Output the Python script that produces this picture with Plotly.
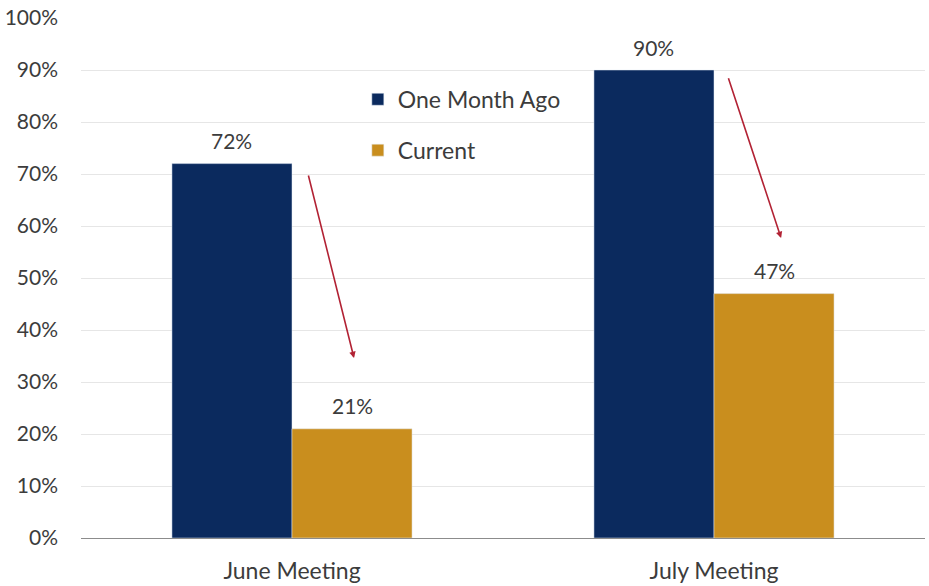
import plotly.graph_objects as go

categories = ["June Meeting", "July Meeting"]
one_month_ago = [0.72, 0.90]
current = [0.21, 0.47]
y_ticks = [0, 0.1, 0.2, 0.3, 0.4, 0.5, 0.6, 0.7, 0.8, 0.9, 1.0]
y_tick_labels = ["0%", "10%", "20%", "30%", "40%", "50%", "60%", "70%", "80%", "90%", "100%"]

NAVY = "#0B2A5E"
GOLD = "#C98E1E"
TXT = "#3C3C3C"
FONT = "Lato"
BARGAP = 0.431
OFFSET = (1 - BARGAP) / 4  # centre offset of each bar within its group

fig = go.Figure()
fig.add_trace(go.Bar(x=categories, y=one_month_ago, name="One Month Ago", marker_color=NAVY,
                     legendgroup="a"))
fig.add_trace(go.Bar(x=categories, y=current, name="Current", marker_color=GOLD,
                     legendgroup="b"))

# value labels above bars
for i, cat in enumerate(categories):
    for val, off in ((one_month_ago[i], -OFFSET), (current[i], OFFSET)):
        fig.add_annotation(x=i + off, y=val, xref="x", yref="y", text=f"{val:.0%}",
                           showarrow=False, yshift=23, font=dict(size=21, color=TXT, family=FONT))

# arrows from "one month ago" toward "current" (category index + offset, y value)
arrows = [
    (0.038, 0.70, 0.147, 0.346),
    (1.033, 0.887, 1.159, 0.577),
]
for x0, y0, x1, y1 in arrows:
    fig.add_annotation(x=x1, y=y1, ax=x0, ay=y0, xref="x", yref="y", axref="x", ayref="y",
                       showarrow=True, arrowhead=2, arrowsize=0.8, arrowwidth=1.6,
                       arrowcolor="#B22234", text="")

fig.update_layout(
    width=929, height=586,
    margin=dict(l=81, r=4, t=18, b=48),
    plot_bgcolor="white", paper_bgcolor="white",
    barmode="group", bargap=BARGAP, bargroupgap=0,
    font=dict(family=FONT, size=20, color=TXT),
    showlegend=True,
    legend=dict(x=0.328, y=0.885, xanchor="left", yanchor="top", bgcolor="rgba(0,0,0,0)",
                tracegroupgap=18, font=dict(size=23, color=TXT, family=FONT), itemwidth=30),
    xaxis=dict(showline=True, linecolor="#8c8c8c", linewidth=1, ticks="outside", ticklen=12,
               tickcolor="rgba(0,0,0,0)", tickfont=dict(size=23, color=TXT), automargin=False),
    yaxis=dict(range=[0, 1.0], tickvals=y_ticks, ticktext=y_tick_labels, showgrid=True,
               gridcolor="#e6e6e6", gridwidth=1, zeroline=False, ticklabelstandoff=22,
               tickfont=dict(size=21, color=TXT), automargin=False),
)

fig.write_html("out.html")
